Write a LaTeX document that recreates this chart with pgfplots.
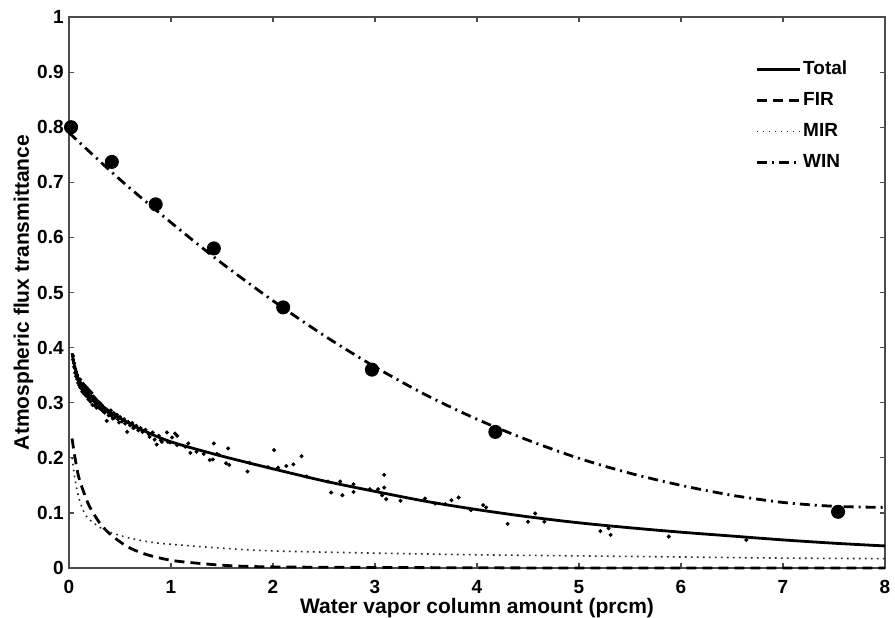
\documentclass[border=0pt]{standalone}
\usepackage{pgfplots}
\pgfplotsset{compat=1.18}
\usepackage{fontspec}
\setmainfont{Liberation Sans}

\begin{document}
\begin{tikzpicture}
\path[use as bounding box] (-34.5pt,-24.5pt) rectangle (413pt,284pt);
\begin{axis}[
  at={(0,0)}, anchor=south west,
  width=408pt, height=275.5pt, scale only axis,
  xmin=0, xmax=8, ymin=0, ymax=1,
  xtick={0,1,2,3,4,5,6,7,8},
  ytick={0,0.1,0.2,0.3,0.4,0.5,0.6,0.7,0.8,0.9,1},
  yticklabels={0,0.1,0.2,0.3,0.4,0.5,0.6,0.7,0.8,0.9,1},
  tick align=inside, major tick length=2.5pt,
  axis line style={black!70, line width=0.6pt},
  every tick/.style={black!70, line width=0.6pt},
  /pgf/number format/assume math mode=true,
  tick label style={font=\bfseries\fontsize{9.5}{11}\selectfont, inner sep=0pt},
  xticklabel style={yshift=-6pt},
  yticklabel style={xshift=-2.5pt},
  xlabel={Water vapor column amount (prcm)},
  ylabel={Atmospheric flux transmittance},
  every axis x label/.style={at={(axis description cs:0.5,-0.0545)}, anchor=north, inner sep=0pt,
    font=\bfseries\fontsize{10.5}{12}\selectfont},
  every axis y label/.style={at={(axis description cs:-0.0558,0.5)}, anchor=center, rotate=90,
    font=\bfseries\fontsize{10.5}{12}\selectfont},
  clip=false,
  legend style={draw=none, fill=none, inner sep=0pt,
    at={(axis description cs:0.8407,0.925)}, anchor=north west,
    font=\bfseries\fontsize{9.5}{11}\selectfont,
    row sep=5.5pt, nodes={inner sep=1pt}},
  legend cell align=left,
  legend image code/.code={\draw[#1] (0pt,0pt) -- (21.5pt,0pt);},
]
% scatter points
\addplot[only marks, mark=*, mark size=0.8pt, black, forget plot] table {
x y
0.04 0.385
0.04 0.378
0.05 0.372
0.05 0.365
0.06 0.362
0.06 0.354
0.07 0.356
0.07 0.348
0.08 0.350
0.08 0.343
0.09 0.344
0.09 0.336
0.10 0.338
0.10 0.332
0.11 0.342
0.11 0.328
0.12 0.335
0.12 0.326
0.13 0.330
0.13 0.320
0.14 0.322
0.14 0.334
0.15 0.327
0.15 0.316
0.16 0.318
0.16 0.330
0.17 0.323
0.17 0.312
0.18 0.312
0.18 0.326
0.19 0.317
0.19 0.306
0.20 0.322
0.20 0.308
0.21 0.313
0.21 0.302
0.22 0.318
0.23 0.305
0.23 0.296
0.24 0.311
0.25 0.302
0.25 0.295
0.26 0.307
0.27 0.298
0.27 0.291
0.28 0.303
0.29 0.293
0.30 0.300
0.30 0.290
0.31 0.289
0.32 0.296
0.33 0.285
0.34 0.291
0.35 0.282
0.36 0.287
0.37 0.267
0.38 0.283
0.39 0.277
0.40 0.279
0.41 0.286
0.42 0.276
0.43 0.271
0.44 0.281
0.45 0.273
0.47 0.278
0.48 0.270
0.49 0.264
0.50 0.274
0.52 0.266
0.54 0.270
0.55 0.262
0.57 0.247
0.58 0.265
0.60 0.259
0.62 0.263
0.63 0.254
0.64 0.255
0.66 0.258
0.68 0.250
0.70 0.254
0.72 0.247
0.75 0.251
0.78 0.243
0.79 0.238
0.82 0.246
0.84 0.233
0.86 0.224
0.88 0.240
0.90 0.232
0.91 0.229
0.96 0.246
0.97 0.229
0.99 0.228
1.01 0.237
1.04 0.244
1.06 0.240
1.06 0.223
1.14 0.220
1.17 0.226
1.19 0.209
1.25 0.211
1.32 0.207
1.38 0.196
1.41 0.197
1.42 0.226
1.45 0.207
1.47 0.205
1.54 0.190
1.56 0.217
1.57 0.187
1.75 0.175
1.77 0.191
1.95 0.183
2.01 0.214
2.05 0.182
2.13 0.185
2.20 0.188
2.28 0.203
2.33 0.166
2.54 0.157
2.57 0.137
2.66 0.157
2.68 0.132
2.79 0.152
2.79 0.138
2.95 0.143
3.03 0.143
3.07 0.132
3.09 0.169
3.09 0.146
3.11 0.125
3.25 0.122
3.49 0.126
3.59 0.117
3.69 0.116
3.75 0.123
3.82 0.128
3.94 0.105
4.06 0.114
4.09 0.110
4.30 0.080
4.50 0.084
4.57 0.099
4.66 0.084
5.21 0.067
5.29 0.072
5.31 0.060
5.88 0.057
6.64 0.051
};
% WIN big dots
\addplot[only marks, mark=*, mark size=3.3pt, black, forget plot] table {
x y
0.02 0.800
0.42 0.737
0.85 0.660
1.42 0.580
2.10 0.473
2.97 0.360
4.18 0.247
7.54 0.102
};
\addplot[black, line width=1.4pt, smooth] table {
x y
0.03 0.390
0.05 0.370
0.08 0.350
0.10 0.339
0.15 0.325
0.20 0.315
0.30 0.298
0.40 0.284
0.50 0.272
0.70 0.252
1.00 0.229
1.50 0.203
2.00 0.180
2.50 0.158
3.00 0.139
3.50 0.121
4.00 0.106
4.50 0.093
5.00 0.082
5.50 0.073
6.00 0.065
6.50 0.058
7.00 0.051
7.50 0.045
8.00 0.040
};
\addlegendentry{Total}
\addplot[black, line width=1.4pt, dash pattern=on 5pt off 3pt, smooth] table {
x y
0.03 0.235
0.05 0.210
0.08 0.178
0.10 0.162
0.14 0.140
0.20 0.112
0.30 0.082
0.40 0.062
0.57 0.039
0.75 0.025
1.00 0.014
1.30 0.008
1.60 0.004
2.00 0.002
3.00 0.001
5.00 0.000
8.00 0.000
};
\addlegendentry{FIR}
\addplot[black!85, line width=0.8pt, dash pattern=on 0.8pt off 2.2pt, smooth] table {
x y
0.03 0.200
0.06 0.160
0.10 0.125
0.15 0.100
0.20 0.088
0.30 0.074
0.40 0.065
0.60 0.054
0.80 0.047
1.00 0.043
1.50 0.036
2.00 0.031
3.00 0.027
4.00 0.024
5.00 0.022
6.00 0.020
7.00 0.018
8.00 0.017
};
\addlegendentry{MIR}
\addplot[black, line width=1.4pt, dash pattern=on 5pt off 2.5pt on 1pt off 2.5pt, smooth] table {
x y
0.00 0.790
0.50 0.705
1.00 0.627
1.50 0.553
2.00 0.485
2.50 0.422
3.00 0.365
3.50 0.314
4.00 0.270
4.50 0.232
5.00 0.199
5.50 0.172
6.00 0.150
6.50 0.132
7.00 0.119
7.50 0.112
8.00 0.110
};
\addlegendentry{WIN}
\end{axis}
\end{tikzpicture}
\end{document}
